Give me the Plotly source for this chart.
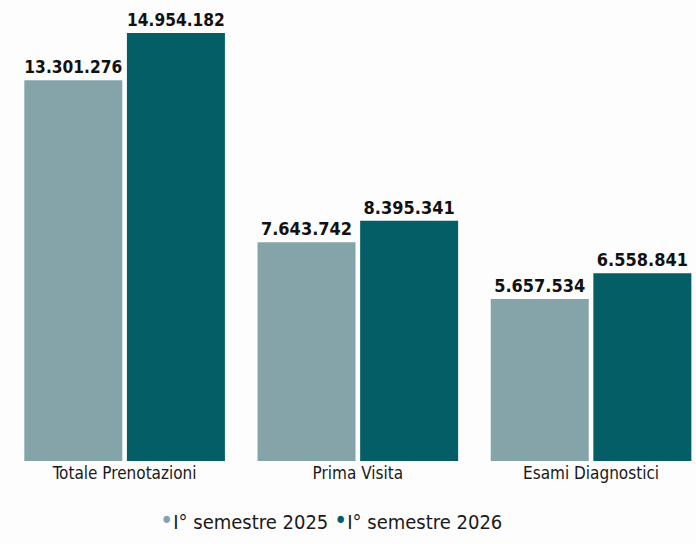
import plotly.graph_objects as go

categories = ["Totale Prenotazioni", "Prima Visita", "Esami Diagnostici"]
series_names = ["I° semestre 2025", "I° semestre 2026"]
values_2025 = [13301276, 7643742, 5657534]
values_2026 = [14954182, 8395341, 6558841]
colors = ["#84a4aa", "#035f65"]

FONT = "DejaVu Sans Condensed, Liberation Sans Narrow, sans-serif"

def fmt(v):
    return f"{v:,}".replace(",", ".")

fig = go.Figure()
for name, vals, col in zip(series_names, [values_2025, values_2026], colors):
    fig.add_trace(go.Bar(
        x=categories, y=vals, name=name, marker=dict(color=col, line=dict(width=0)),
        text=[fmt(v) for v in vals], textposition="outside",
        textfont=dict(family=FONT, size=18, color="#111111", weight="bold"),
        cliponaxis=False, showlegend=False,
    ))

legend_text = " ".join(
    f"<span style='color:{c};font-size:25px'>•</span>{n}" for n, c in zip(series_names, colors)
)
fig.add_annotation(
    text=legend_text, xref="paper", yref="paper", x=0.47, y=-0.138,
    xanchor="center", yanchor="middle", showarrow=False,
    font=dict(family=FONT, size=20, color="#1a1a1a"),
)

fig.update_layout(
    width=696, height=544,
    paper_bgcolor="#fdfdfd", plot_bgcolor="#fdfdfd",
    margin=dict(l=8, r=0, t=33, b=83),
    barmode="group", bargap=0.12, bargroupgap=0.045,
    font=dict(family=FONT, color="#1a1a1a"),
    showlegend=False,
    xaxis=dict(showgrid=False, zeroline=False, showline=False, ticks="",
               range=[-0.5, 2.45], tickfont=dict(size=17, color="#1a1a1a")),
    yaxis=dict(visible=False, range=[0, max(values_2026)], showgrid=False, zeroline=False),
)

fig.write_html("out.html")
